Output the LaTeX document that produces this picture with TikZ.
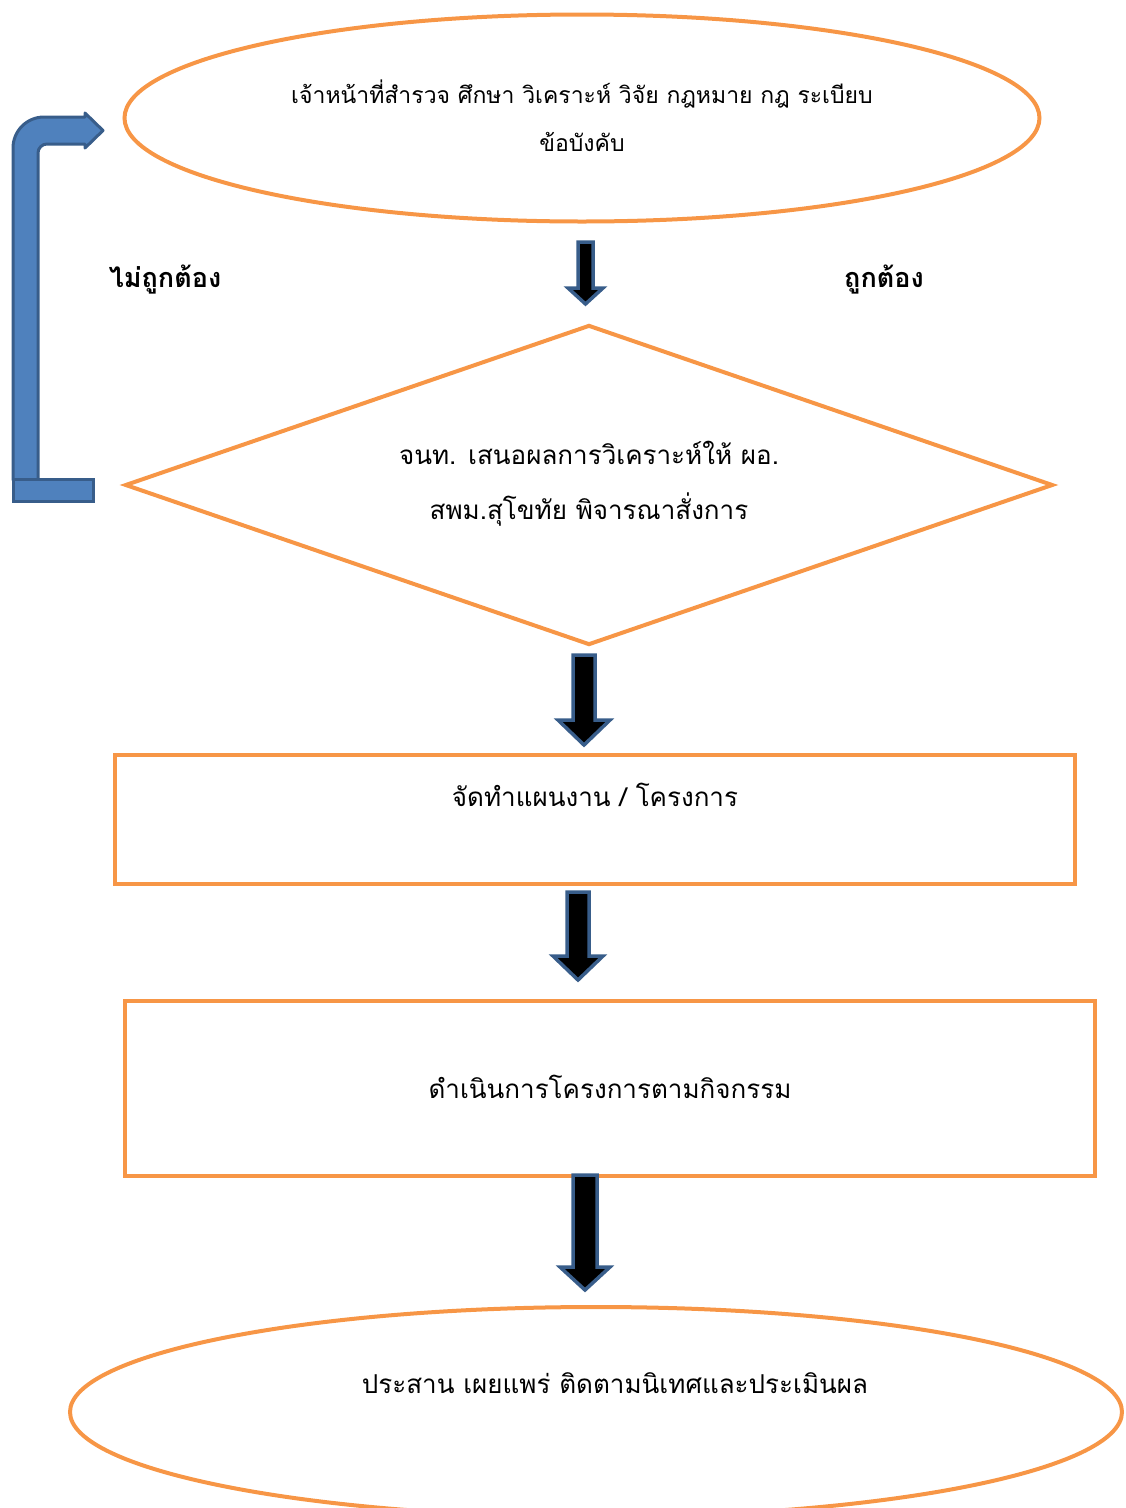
\documentclass[tikz,border=0pt]{standalone}
\usepackage{fontspec}
\newfontfamily\thaifont[Script=Thai]{Loma}
\usetikzlibrary{shapes.geometric}
\definecolor{orng}{HTML}{F79646}
\definecolor{bfill}{HTML}{4F81BD}
\definecolor{bline}{HTML}{385D8A}
\tikzset{
  shapeline/.style={draw=orng, line width=4pt, inner sep=0pt},
  txtsmall/.style={font=\thaifont\fontsize{23}{48}\selectfont, align=center, inner sep=0pt},
  txt/.style={font=\thaifont\fontsize{26}{55}\selectfont, align=center, inner sep=0pt},
  lbl/.style={font=\thaifont\bfseries\fontsize{27}{30}\selectfont, inner sep=0pt},
  blockarrow/.style={fill=black, draw=bline, line width=3.5pt, line join=miter},
  bentarrow/.style={fill=bfill, draw=bline, line width=3pt, line join=round}
}
\begin{document}
\begin{tikzpicture}[x=1pt,y=-1pt]
\useasboundingbox (0,0) rectangle (1125,1508);
% shapes
\node[shapeline, ellipse, minimum width=915pt, minimum height=207pt] (e1) at (582,118) {};
\node[shapeline, diamond, aspect=2.9, minimum width=928pt, minimum height=320pt] (d1) at (589,485) {};
\node[shapeline, rectangle, minimum width=960pt, minimum height=129pt] (r1) at (595,819.5) {};
\node[shapeline, rectangle, minimum width=970pt, minimum height=175pt] (r2) at (610,1088.5) {};
\node[shapeline, ellipse, minimum width=1052pt, minimum height=210pt] (e2) at (596,1412) {};
% texts
\node[txtsmall] (t1) at (582,116) {เจ้าหน้าที่สำรวจ ศึกษา วิเคราะห์ วิจัย กฎหมาย กฎ ระเบียบ\\ข้อบังคับ};
\node[txt] (t2) at (589,484) {จนท. เสนอผลการวิเคราะห์ให้ ผอ.\\สพม.สุโขทัย พิจารณาสั่งการ};
\node[txt] (t3) at (595,795) {จัดทำแผนงาน / โครงการ};
\node[txt] (t4) at (610,1087) {ดำเนินการโครงการตามกิจกรรม};
\node[txt] (t5) at (615,1383) {ประสาน เผยแพร่ ติดตามนิเทศและประเมินผล};
\node[lbl] (l1) at (165,280) {ไม่ถูกต้อง};
\node[lbl] (l2) at (884,280) {ถูกต้อง};
% down block arrows
\draw[blockarrow] (578,242) -- (593,242) -- (593,288) -- (603,288) -- (585.5,304) -- (568,288) -- (578,288) -- cycle;
\draw[blockarrow] (573,655) -- (595,655) -- (595,720) -- (610,720) -- (584,745) -- (558,720) -- (573,720) -- cycle;
\draw[blockarrow] (567,892) -- (589,892) -- (589,956) -- (603,956) -- (578,980) -- (553,956) -- (567,956) -- cycle;
\draw[blockarrow] (573,1175) -- (597,1175) -- (597,1267) -- (610,1267) -- (585,1290) -- (560,1267) -- (573,1267) -- cycle;
% bent arrow back to top
\draw[bentarrow] (13,480) -- (13,148) arc[start angle=180, end angle=270, radius=31] -- (85,117) -- (85,113) -- (103,130.5) -- (85,148) -- (85,144) -- (47,144) arc[start angle=270, end angle=180, radius=9] -- (38,480) -- cycle;
\draw[bentarrow, line join=miter] (13,479) rectangle (93,501);
\end{tikzpicture}
\end{document}
